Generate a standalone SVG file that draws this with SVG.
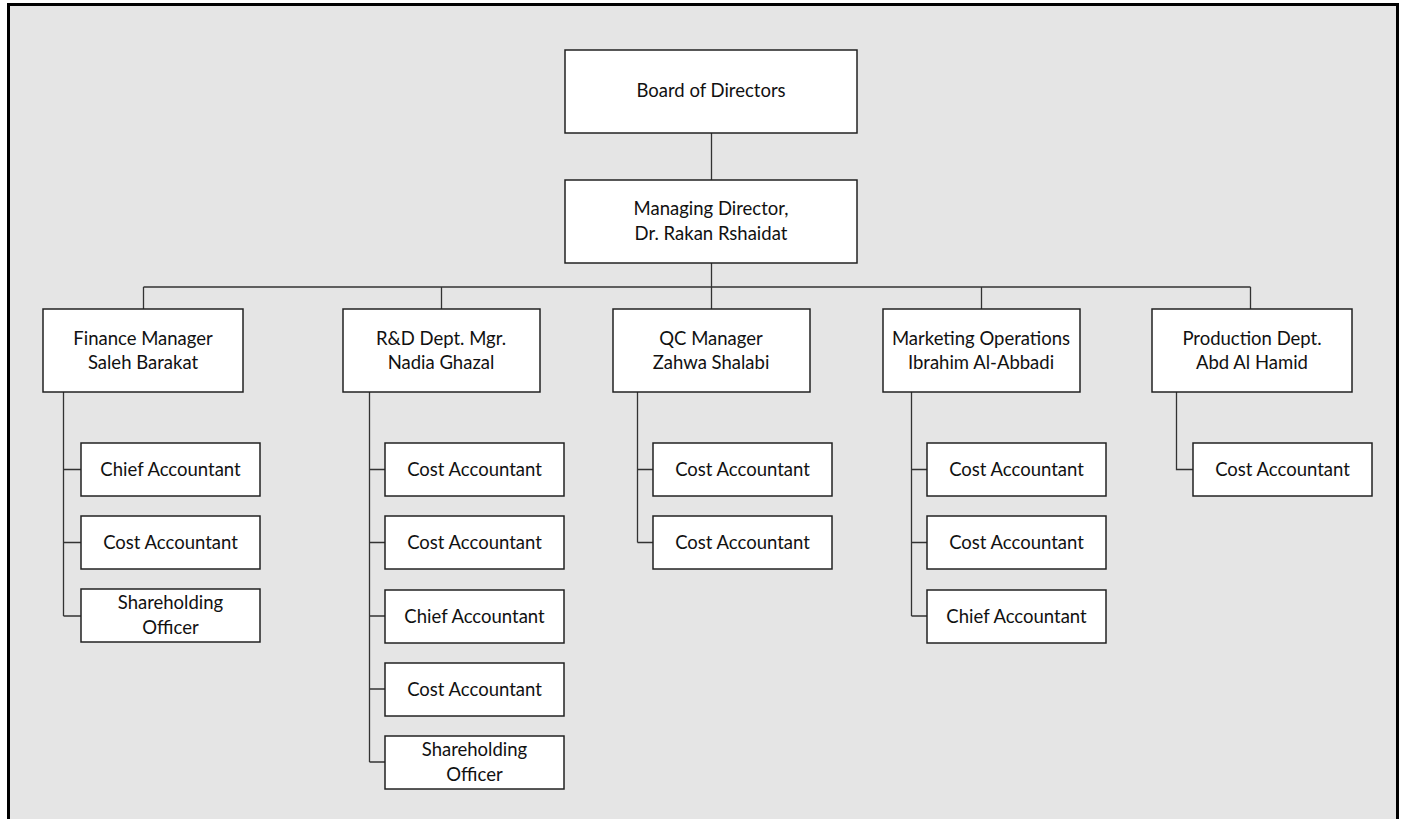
<svg xmlns="http://www.w3.org/2000/svg" width="1402" height="819" viewBox="0 0 1402 819">
<style>
.box{fill:#ffffff;stroke:#222222;stroke-width:1.5}
.t{font-family:"Lato","Open Sans","Liberation Sans",sans-serif;font-size:18.5px;fill:#111111;text-anchor:middle}
.c{fill:none;stroke:#333333;stroke-width:1.3}
</style>
<rect x="0" y="0" width="1402" height="819" fill="#ffffff"/>
<rect x="8.5" y="4.5" width="1389" height="830" fill="#e5e5e5" stroke="#000000" stroke-width="3"/>
<g id="connectors">
<path class="c" d="M711.5 133V180M711.5 263V287M143.5 287H1250.5M143.5 287V309M441.5 287V309M711.5 287V309M981.5 287V309M1250.5 287V309"/>
<path class="c" d="M63.5 392V616M63.5 469.5H81M63.5 542.5H81M63.5 616H81"/>
<path class="c" d="M369.5 392V762M369.5 469.5H385M369.5 542.5H385M369.5 616H385M369.5 689H385M369.5 762H385"/>
<path class="c" d="M637.5 392V542.5M637.5 469.5H653M637.5 542.5H653"/>
<path class="c" d="M911.5 392V616M911.5 469.5H927M911.5 542.5H927M911.5 616H927"/>
<path class="c" d="M1176.5 392V469.5H1193"/>
</g>
<g id="board"><rect class="box" x="565" y="50" width="292" height="83"/><text class="t" x="711" y="97">Board of Directors</text></g>
<g id="md"><rect class="box" x="565" y="180" width="292" height="83"/><text class="t" x="711" y="215">Managing Director,</text><text class="t" x="711" y="240">Dr. Rakan Rshaidat</text></g>
<g id="finance"><rect class="box" x="43" y="309" width="200" height="83"/><text class="t" x="143" y="345">Finance Manager</text><text class="t" x="143" y="369">Saleh Barakat</text></g>
<g id="rd"><rect class="box" x="343" y="309" width="197" height="83"/><text class="t" x="441" y="345">R&amp;D Dept. Mgr.</text><text class="t" x="441" y="369">Nadia Ghazal</text></g>
<g id="qc"><rect class="box" x="613" y="309" width="197" height="83"/><text class="t" x="711" y="345">QC Manager</text><text class="t" x="711" y="369">Zahwa Shalabi</text></g>
<g id="marketing"><rect class="box" x="883" y="309" width="197" height="83"/><text class="t" x="981" y="345">Marketing Operations</text><text class="t" x="981" y="369">Ibrahim Al-Abbadi</text></g>
<g id="production"><rect class="box" x="1152" y="309" width="200" height="83"/><text class="t" x="1252" y="345">Production Dept.</text><text class="t" x="1252" y="369">Abd Al Hamid</text></g>
<g id="f1"><rect class="box" x="81" y="443" width="179" height="53"/><text class="t" x="170.5" y="476">Chief Accountant</text></g>
<g id="f2"><rect class="box" x="81" y="516" width="179" height="53"/><text class="t" x="170.5" y="549">Cost Accountant</text></g>
<g id="f3"><rect class="box" x="81" y="589" width="179" height="53"/><text class="t" x="170.5" y="609">Shareholding</text><text class="t" x="170.5" y="634">Officer</text></g>
<g id="r1"><rect class="box" x="385" y="443" width="179" height="53"/><text class="t" x="474.5" y="476">Cost Accountant</text></g>
<g id="r2"><rect class="box" x="385" y="516" width="179" height="53"/><text class="t" x="474.5" y="549">Cost Accountant</text></g>
<g id="r3"><rect class="box" x="385" y="590" width="179" height="53"/><text class="t" x="474.5" y="623">Chief Accountant</text></g>
<g id="r4"><rect class="box" x="385" y="663" width="179" height="53"/><text class="t" x="474.5" y="696">Cost Accountant</text></g>
<g id="r5"><rect class="box" x="385" y="736" width="179" height="53"/><text class="t" x="474.5" y="756">Shareholding</text><text class="t" x="474.5" y="781">Officer</text></g>
<g id="q1"><rect class="box" x="653" y="443" width="179" height="53"/><text class="t" x="742.5" y="476">Cost Accountant</text></g>
<g id="q2"><rect class="box" x="653" y="516" width="179" height="53"/><text class="t" x="742.5" y="549">Cost Accountant</text></g>
<g id="m1"><rect class="box" x="927" y="443" width="179" height="53"/><text class="t" x="1016.5" y="476">Cost Accountant</text></g>
<g id="m2"><rect class="box" x="927" y="516" width="179" height="53"/><text class="t" x="1016.5" y="549">Cost Accountant</text></g>
<g id="m3"><rect class="box" x="927" y="590" width="179" height="53"/><text class="t" x="1016.5" y="623">Chief Accountant</text></g>
<g id="p1"><rect class="box" x="1193" y="443" width="179" height="53"/><text class="t" x="1282.5" y="476">Cost Accountant</text></g>
</svg>
